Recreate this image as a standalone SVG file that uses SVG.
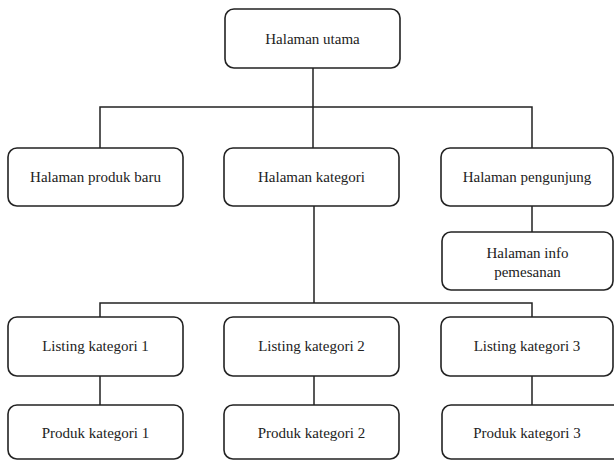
<svg xmlns="http://www.w3.org/2000/svg" width="614" height="461" viewBox="0 0 614 461">
<style>
.box{fill:#fff;stroke:#222;stroke-width:1.6}
text{font-family:"Liberation Serif","Times New Roman",Times,"Noto Serif","DejaVu Serif",Tinos,serif;font-size:15px;fill:#222;text-anchor:middle}
.c{fill:none;stroke:#222;stroke-width:1.5}
</style>
<rect width="614" height="461" fill="#fff"/>
<g id="connectors">
<path class="c" d="M313 68V148M100 148V107H532V148M532 206V232M314 206V303M100 317V303H532V317M100 376V405M314 376V405M532 376V405"/>
</g>
<g id="n-utama"><rect class="box" x="225" y="9" width="175" height="59" rx="9"/><text x="312.5" y="44">Halaman utama</text></g>
<g id="n-produk-baru"><rect class="box" x="8" y="148" width="175" height="58" rx="9"/><text x="95.5" y="182">Halaman produk baru</text></g>
<g id="n-kategori"><rect class="box" x="224" y="148" width="175" height="58" rx="9"/><text x="311.5" y="182">Halaman kategori</text></g>
<g id="n-pengunjung"><rect class="box" x="441" y="148" width="172" height="58" rx="9"/><text x="527" y="182">Halaman pengunjung</text></g>
<g id="n-info"><rect class="box" x="442" y="232" width="171" height="58" rx="9"/><text x="527.5" y="258">Halaman info</text><text x="527.5" y="277">pemesanan</text></g>
<g id="n-listing1"><rect class="box" x="8" y="317" width="175" height="59" rx="9"/><text x="95.5" y="351">Listing kategori 1</text></g>
<g id="n-listing2"><rect class="box" x="224" y="317" width="175" height="59" rx="9"/><text x="311.5" y="351">Listing kategori 2</text></g>
<g id="n-listing3"><rect class="box" x="441" y="317" width="172" height="59" rx="9"/><text x="527" y="351">Listing kategori 3</text></g>
<g id="n-produk1"><rect class="box" x="8" y="405" width="175" height="54" rx="9"/><text x="95.5" y="438">Produk kategori 1</text></g>
<g id="n-produk2"><rect class="box" x="224" y="405" width="175" height="54" rx="9"/><text x="311.5" y="438">Produk kategori 2</text></g>
<g id="n-produk3"><rect class="box" x="442" y="405" width="180" height="54" rx="9"/><text x="527" y="438">Produk kategori 3</text></g>
</svg>
